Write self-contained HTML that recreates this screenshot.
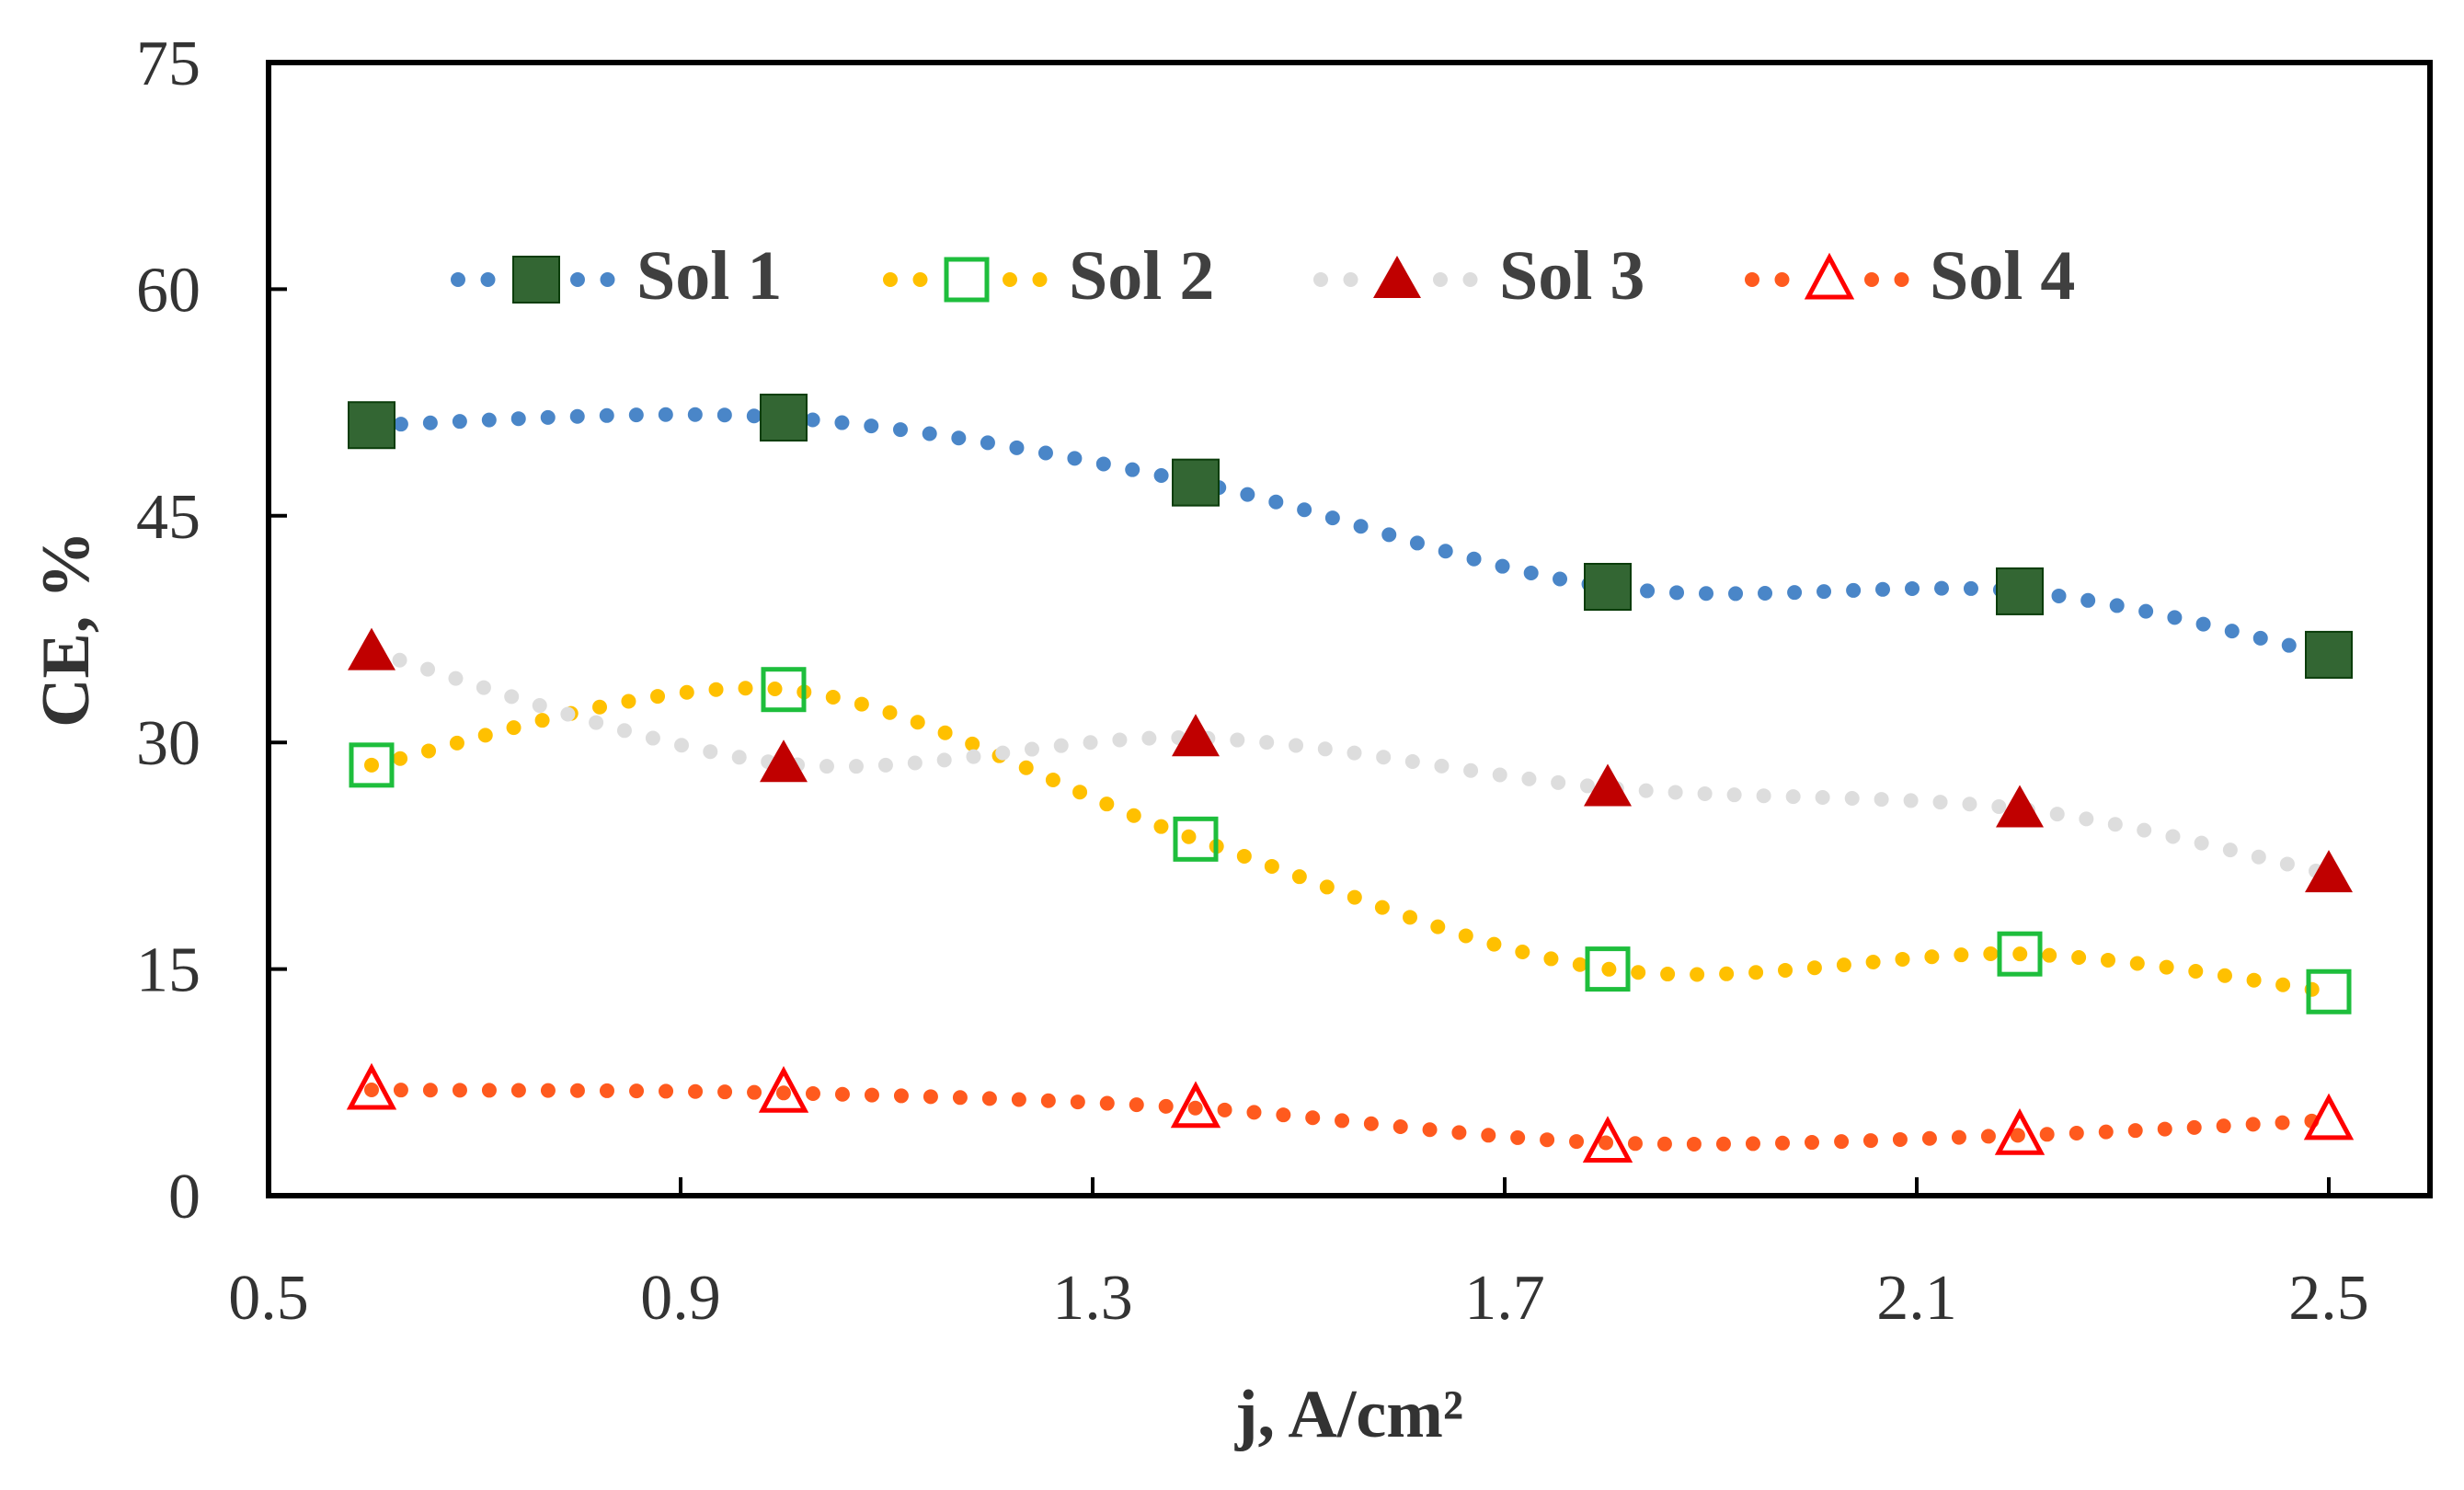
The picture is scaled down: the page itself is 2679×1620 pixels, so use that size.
<!DOCTYPE html>
<html><head><meta charset="utf-8"><style>
html,body{margin:0;padding:0;background:#fff;}
svg{display:block;font-family:"Liberation Serif",serif;}
</style></head><body>
<svg id="chart" width="2679" height="1620" viewBox="0 0 2679 1620" xmlns="http://www.w3.org/2000/svg">
<g id="axes"></g>
<g id="series"></g>
<g id="legend"></g>
</svg>
<script>
const xValues = [0.6, 1.0, 1.4, 1.8, 2.2, 2.5];
const sol1 = [51.0, 51.5, 47.2, 40.3, 40.0, 35.8];
const sol2 = [28.5, 33.5, 23.6, 15.0, 16.0, 13.5];
const sol3 = [36.0, 28.6, 30.3, 27.0, 25.6, 21.3];
const sol4 = [7.0, 6.8, 5.8, 3.5, 4.0, 5.0];
const xTicks = [0.5, 0.9, 1.3, 1.7, 2.1, 2.5];
const yTicks = [0, 15, 30, 45, 60, 75];
const seriesNames = ["Sol 1", "Sol 2", "Sol 3", "Sol 4"];

const NS = "http://www.w3.org/2000/svg";
const L = 292, R = 2642, T = 68, B = 1300;
const xMin = 0.5, xStep = 448 / 0.4;
const X = v => L + (v - xMin) * xStep;
const Y = v => B - v * (B - T) / 75;
function mk(tag, attrs, parent) {
  const e = document.createElementNS(NS, tag);
  for (const k in attrs) e.setAttribute(k, attrs[k]);
  parent.appendChild(e);
  return e;
}
const axes = document.getElementById('axes');
const seriesG = document.getElementById('series');
const legend = document.getElementById('legend');

const frame = mk('rect', {x: L, y: T, width: R - L, height: B - T, fill: 'none', stroke: '#000', 'stroke-width': 6}, axes);



yTicks.forEach(t => {
  const y = Y(t);
  if (t > 0 && t < 75) {
    const tk = mk('line', {x1: L, x2: L + 20, y1: y, y2: y, stroke: '#000', 'stroke-width': 4}, axes);
    
    
  }
  const tx = mk('text', {x: 218, y: y + 24, 'text-anchor': 'end', 'font-size': 70, fill: '#333'}, axes);
  tx.textContent = t;
  
  
});
xTicks.forEach(t => {
  const x = X(t);
  if (t > 0.5) {
    const tk = mk('line', {x1: x, x2: x, y1: B, y2: B - 20, stroke: '#000', 'stroke-width': 4}, axes);
    
    
  }
  const tx = mk('text', {x: x, y: 1434, 'text-anchor': 'middle', 'font-size': 70, fill: '#333'}, axes);
  tx.textContent = t.toFixed(1);
  
  
});
const xt = mk('text', {x: 1467, y: 1562, 'text-anchor': 'middle', 'font-size': 74, 'font-weight': 'bold', fill: '#333'}, axes);
xt.textContent = 'j, A/cm²';


const yt = mk('text', {x: 0, y: 0, 'text-anchor': 'middle', 'font-size': 74, 'font-weight': 'bold', fill: '#333', transform: 'translate(96,684) rotate(-90)'}, axes);
yt.textContent = 'CE, %';



function smoothPath(pts) {
  let d = `M${pts[0][0]},${pts[0][1]}`;
  for (let i = 0; i < pts.length - 1; i++) {
    const p0 = pts[i - 1] || pts[i], p1 = pts[i], p2 = pts[i + 1], p3 = pts[i + 2] || p2;
    const t = 6;
    const c1 = [p1[0] + (p2[0] - p0[0]) / t, p1[1] + (p2[1] - p0[1]) / t];
    const c2 = [p2[0] - (p3[0] - p1[0]) / t, p2[1] - (p3[1] - p1[1]) / t];
    d += ` C${c1[0]},${c1[1]} ${c2[0]},${c2[1]} ${p2[0]},${p2[1]}`;
  }
  return d;
}
function marker(type, cx, cy, parent) {
  let e;
  if (type === 'sq-fill') e = mk('rect', {x: cx - 25, y: cy - 25, width: 50, height: 50, fill: '#336633', stroke: '#0b3d0b', 'stroke-width': 2}, parent);
  else if (type === 'sq-open') e = mk('rect', {x: cx - 22, y: cy - 22, width: 44, height: 44, fill: 'none', stroke: '#1ebe3c', 'stroke-width': 5}, parent);
  else if (type === 'tri-fill') e = mk('polygon', {points: `${cx},${cy - 26} ${cx - 26},${cy + 20} ${cx + 26},${cy + 20}`, fill: '#c00000'}, parent);
  else e = mk('polygon', {points: `${cx},${cy - 24} ${cx - 23},${cy + 19} ${cx + 23},${cy + 19}`, fill: 'none', stroke: '#ff0000', 'stroke-width': 5}, parent);
  return e;
}
const specs = [
  {data: sol1, color: '#4a86c8', m: 'sq-fill', name: 'sol-1'},
  {data: sol2, color: '#ffc000', m: 'sq-open', name: 'sol-2'},
  {data: sol3, color: '#dddddd', m: 'tri-fill', name: 'sol-3'},
  {data: sol4, color: '#ff5a1e', m: 'tri-open', name: 'sol-4'}
];
specs.forEach(s => {
  const g = mk('g', {}, seriesG);
  
  
  const pts = xValues.map((x, i) => [X(x), Y(s.data[i])]);
  const p = mk('path', {d: smoothPath(pts), fill: 'none', stroke: s.color, 'stroke-width': 16, 'stroke-linecap': 'round', 'stroke-dasharray': '0 32'}, g);
  
  
  pts.forEach(pt => {
    const m = marker(s.m, pt[0], pt[1], g);
    
    
  });
});
const legX = [[498, 583, 692], [968, 1051, 1162], [1436, 1519, 1630], [1905, 1989, 2098]];
specs.forEach((s, i) => {
  const g = mk('g', {}, legend);
  
  
  const [x0, mx, tx] = legX[i];
  const ln = mk('path', {d: `M${x0},304 H${x0 + 170}`, stroke: s.color, 'stroke-width': 16, 'stroke-linecap': 'round', 'stroke-dasharray': '0 32.5', fill: 'none'}, g);
  
  
  const m = mk('rect', {x: mx - 28, y: 276, width: 56, height: 56, fill: '#fff'}, g);
  
  
  const mm = marker(s.m, mx, 304, g);
  
  
  const t = mk('text', {x: tx, y: 325, 'font-size': 76, 'font-weight': 'bold', fill: '#404040'}, g);
  t.textContent = seriesNames[i];
  
  
});
</script>
</body></html>
